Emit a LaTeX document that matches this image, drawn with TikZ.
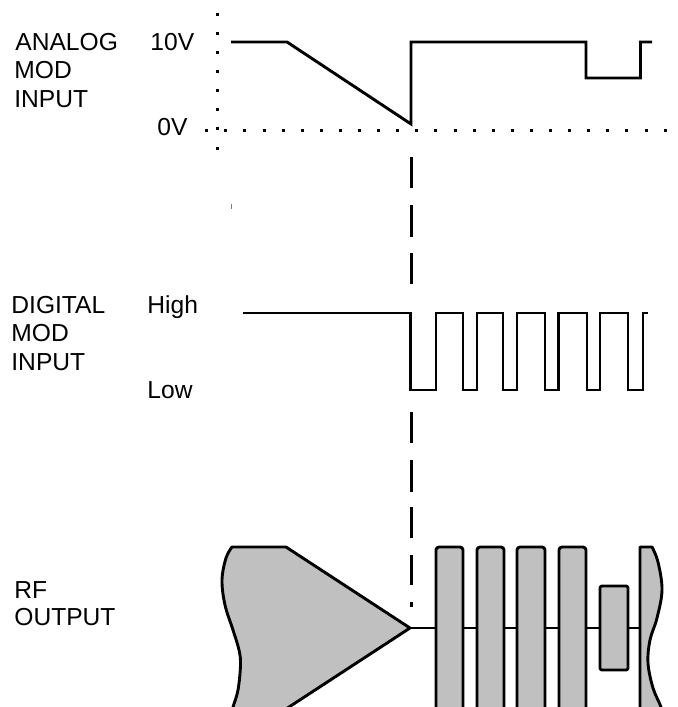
\documentclass[tikz,border=0pt]{standalone}
\usepackage{fontspec}
\setmainfont{Liberation Sans}
\definecolor{rfgray}{RGB}{192,192,192}
\begin{document}
\begin{tikzpicture}[x=0.5pt,y=-0.5pt,
  lbl/.style={anchor=base west, inner sep=0pt, font=\fontsize{12.3}{14}\selectfont},
  wave/.style={line width=1.45pt, line join=miter},
  dashmark/.style={line width=1.5pt},
  dotline/.style={line width=1.5pt, dash pattern=on 1.5pt off 8.05pt},
  rfshape/.style={line width=1.45pt, fill=rfgray, draw=black, line join=round}]
\useasboundingbox (0,0) rectangle (678,707);
\clip (0,0) rectangle (678,707);

% labels
\node[lbl] (anaA) at (15,50) {ANALOG};
\node[lbl] (anaB) at (14,78.5) {MOD};
\node[lbl] (anaC) at (14,107) {INPUT};
\node[lbl] (tenv) at (150,50) {10V};
\node[lbl] (zerov) at (157,135) {0V};
\node[lbl] (digA) at (11,313) {DIGITAL};
\node[lbl] (digB) at (11,341.5) {MOD};
\node[lbl] (digC) at (11,370) {INPUT};
\node[lbl] (high) at (147,313) {High};
\node[lbl] (low) at (147,398) {Low};
\node[lbl] (rfA) at (14,598) {RF};
\node[lbl] (rfB) at (14,625.5) {OUTPUT};

% dotted axes
\draw[dotline] (217,12.8) -- (217,150);
\draw[dotline] (205.2,130.7) -- (667,130.7);

% analog waveform
\draw[wave] (231,42) -- (287,42) -- (411,124) -- (411,42) -- (586,42) -- (586,78)
  -- (640.5,78) -- (640.5,42) -- (652,42);

% dashed marker
\foreach \a/\b in {157/188, 205/237, 253/284, 412/443, 460/492, 507/538, 555/585, 602/607}
  \draw[dashmark] (411.5,\a) -- (411.5,\b);

% small grey tick
\draw[gray, line width=0.5pt] (231.5,203.8) -- (231.5,208.5);

% digital waveform
\draw[wave] (243,313) -- (410.5,313) -- (410.5,390) -- (436,390) -- (436,313)
  -- (463,313) -- (463,390) -- (477,390) -- (477,313) -- (503,313) -- (503,390)
  -- (517,390) -- (517,313) -- (545,313) -- (545,390) -- (558.5,390) -- (558.5,313)
  -- (587,313) -- (587,390) -- (600,390) -- (600,313) -- (628,313) -- (628,390)
  -- (643,390) -- (643,313) -- (648,313);

% RF output
\draw[wave] (410,628) -- (641,628);
\draw[rfshape] (232,547) -- (286,547) -- (410,628) -- (276.8,715) -- (231,715)
  -- plot[smooth, tension=0.6] coordinates {(231,715) (233,707) (238,690) (240.5,665)
     (239,650) (233,630) (225,605) (222,580) (226,558) (232,547)} -- cycle;
\foreach \l/\r in {436/463, 477/504, 517/545, 559/586}
  \draw[rfshape, rounded corners=1.5pt] (\l,720) -- (\l,547) -- (\r,547) -- (\r,720);
\draw[rfshape, rounded corners=1pt] (600,586) rectangle (628,670);
\draw[rfshape] (640,720) -- (640,547) -- (652,547)
  -- plot[smooth, tension=0.6] coordinates {(652,547) (658,562) (662,590) (657,618)
     (650,640) (648,663) (653,688) (661,707) (664,720)} -- cycle;
\end{tikzpicture}
\end{document}
